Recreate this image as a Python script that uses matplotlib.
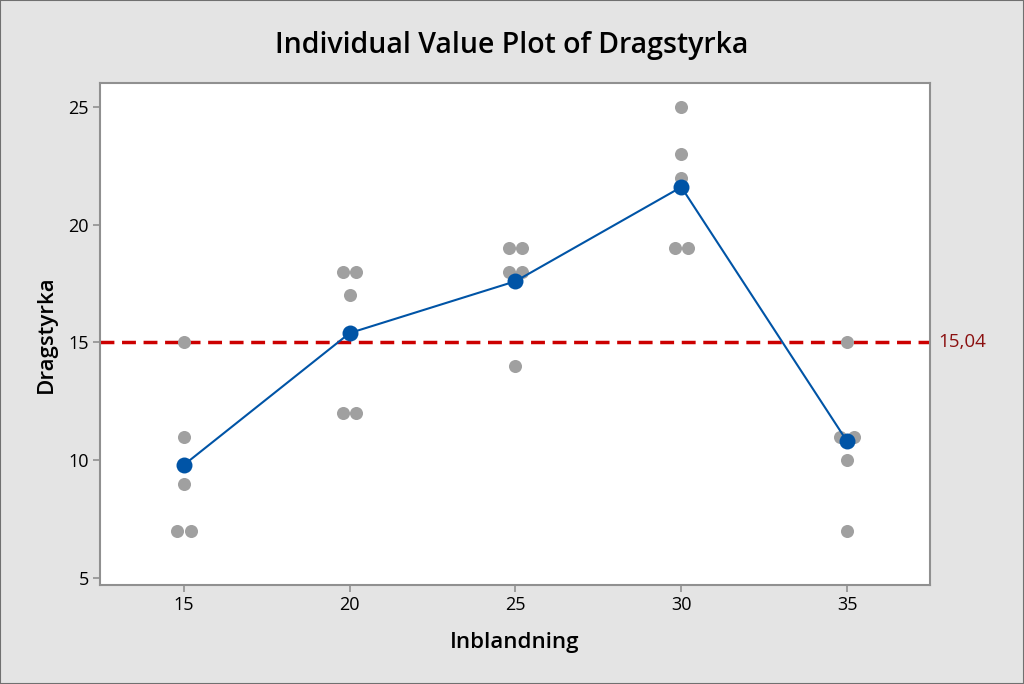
import matplotlib
matplotlib.use("Agg")
import matplotlib.pyplot as plt
from matplotlib.patches import Rectangle
import numpy as np

levels = [15, 20, 25, 30, 35]
values = {
    15: [7, 7, 15, 11, 9],
    20: [12, 17, 12, 18, 18],
    25: [14, 18, 18, 19, 19],
    30: [19, 25, 22, 19, 23],
    35: [7, 10, 11, 15, 11],
}
grand_mean = 15.04
title = "Individual Value Plot of Dragstyrka"
xlabel = "Inblandning"
ylabel = "Dragstyrka"

plt.rcParams['font.family'] = ['Open Sans', 'DejaVu Sans']

fig = plt.figure(figsize=(10.24, 6.84), dpi=100, facecolor='#e4e4e4')
ax = fig.add_axes([100/1024, 1-585/684, 830/1024, 502/684])
ax.set_facecolor('white')

dot_gray = '#a0a0a0'
blue = '#0054a6'
shift = 0.2
for lv in levels:
    vals = values[lv]
    uniq, counts = np.unique(vals, return_counts=True)
    for u, c in zip(uniq, counts):
        offs = (np.arange(c) - (c - 1) / 2) * 2 * shift
        ax.plot(lv + offs, [u] * c, 'o', color=dot_gray, ms=9.4, mec='none', zorder=2)

means = [np.mean(values[lv]) for lv in levels]
ax.plot(levels, means, '-', color=blue, lw=1.5, zorder=3)
ax.plot(levels, means, 'o', color=blue, ms=11.5, mec='none', zorder=4)

ax.axhline(grand_mean, color='#cc0000', lw=2.5, ls=(0, (4, 2.2)), zorder=1)
ax.text(1.0096, grand_mean, f"{grand_mean:.2f}".replace('.', ','), transform=ax.get_yaxis_transform(),
        color='#8b1010', fontsize=13.5, va='center', ha='left')

ax.set_xlim(12.47, 37.5)
ax.set_ylim(4.7, 26.02)
ax.set_xticks(levels)
ax.set_yticks([5, 10, 15, 20, 25])
ax.tick_params(axis='both', colors='#909090', labelcolor='black', labelsize=13, length=5, width=1.2, pad=3)
for s in ax.spines.values():
    s.set_color('#909090')
    s.set_linewidth(1.5)

ax.set_xlabel(xlabel, fontsize=16, fontweight='semibold', labelpad=13)
ax.set_ylabel(ylabel, fontsize=16, fontweight='semibold', labelpad=8)
fig.text(0.5, 1-45/684, title, ha='center', va='center', fontsize=20.5, fontweight='semibold')

fig.patches.append(Rectangle((0, 0), 1, 1, transform=fig.transFigure, fill=False,
                             edgecolor='#707070', lw=1.5))

fig.savefig('out.png', dpi=100, facecolor=fig.get_facecolor())
